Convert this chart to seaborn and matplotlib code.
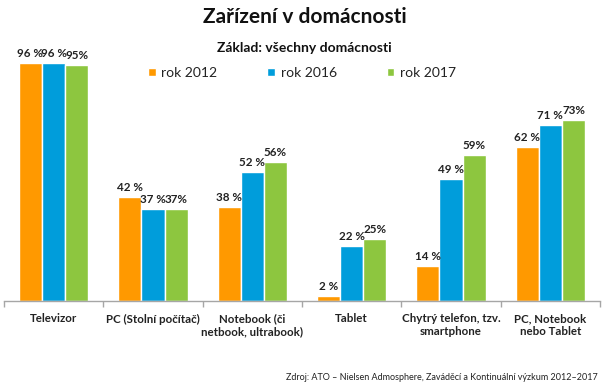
import matplotlib
matplotlib.use("Agg")
import matplotlib.pyplot as plt
import seaborn as sns
import pandas as pd
import numpy as np

categories = ["Televizor", "PC (Stolní počítač)", "Notebook (či\nnetbook, ultrabook)",
              "Tablet", "Chytrý telefon, tzv.\nsmartphone", "PC, Notebook\nnebo Tablet"]
series = ["rok 2012", "rok 2016", "rok 2017"]
v2012 = [96, 42, 38, 2, 14, 62]
v2016 = [96, 37, 52, 22, 49, 71]
v2017 = [95, 37, 56, 25, 59, 73]
labels2012 = ["96 %", "42 %", "38 %", "2 %", "14 %", "62 %"]
labels2016 = ["96 %", "37 %", "52 %", "22 %", "49 %", "71 %"]
labels2017 = ["95%", "37%", "56%", "25%", "59%", "73%"]
colors = ["#FF9900", "#009DDB", "#8DC63F"]

sns.set_theme(style="white")
plt.rcParams['font.family'] = ['Lato', 'DejaVu Sans']

df = pd.DataFrame({
    "cat": categories * 3,
    "year": sum([[s] * len(categories) for s in series], []),
    "val": v2012 + v2016 + v2017,
})

fig = plt.figure(figsize=(6.09, 3.87), dpi=100)
ax = fig.add_axes([4/609, 1 - 301/387, 596/609, (301 - 53)/387])
sns.barplot(data=df, x="cat", y="val", hue="year", palette=colors, width=0.7,
            edgecolor="white", linewidth=1, ax=ax, legend=True, saturation=1)

ax.set_ylim(0, 100)
ax.set_xlim(-0.5, len(categories) - 0.5)
ax.set_xlabel("")
ax.set_ylabel("")
ax.set_yticks([])
for s in ["top", "right", "left"]:
    ax.spines[s].set_visible(False)
ax.spines["bottom"].set_color("#A6A6A6")
ax.spines["bottom"].set_linewidth(1)
ax.tick_params(axis="x", which="major", length=0, pad=9)
ax.set_xticks(range(len(categories)))
ax.set_xticklabels(categories, fontsize=8.3, fontweight="bold", color="#222222")
ax.set_xticks(np.arange(-0.5, len(categories)), minor=True)
ax.tick_params(axis="x", which="minor", length=4, color="#A6A6A6", width=1, direction="out", bottom=True)

all_labels = [labels2012, labels2016, labels2017]
for cont, labs in zip(ax.containers, all_labels):
    ax.bar_label(cont, labels=labs, padding=3, fontsize=8.4, fontweight="bold", color="#222222")

leg = ax.legend(loc="center", bbox_to_anchor=(0.5, (1 - 73/387 - (1 - 301/387)) / ((301 - 53)/387)),
                ncol=3, frameon=False, fontsize=10, handlelength=0.55, handleheight=0.55,
                columnspacing=3.6, handletextpad=0.4)
for t in leg.get_texts():
    t.set_color("#222222")

fig.text(0.5, 1 - 17/387, "Zařízení v domácnosti", ha="center", va="center",
         fontsize=15, fontweight="bold", color="#111111")
fig.text(0.5, 1 - 48/387, "Základ: všechny domácnosti", ha="center", va="center",
         fontsize=10, fontweight="bold", color="#111111")
fig.text(598/609, 1 - 378/387, "Zdroj: ATO – Nielsen Admosphere, Zaváděcí a Kontinuální výzkum 2012–2017",
         ha="right", va="center", fontsize=6.5, color="#222222")

fig.savefig("out.png", dpi=100)
